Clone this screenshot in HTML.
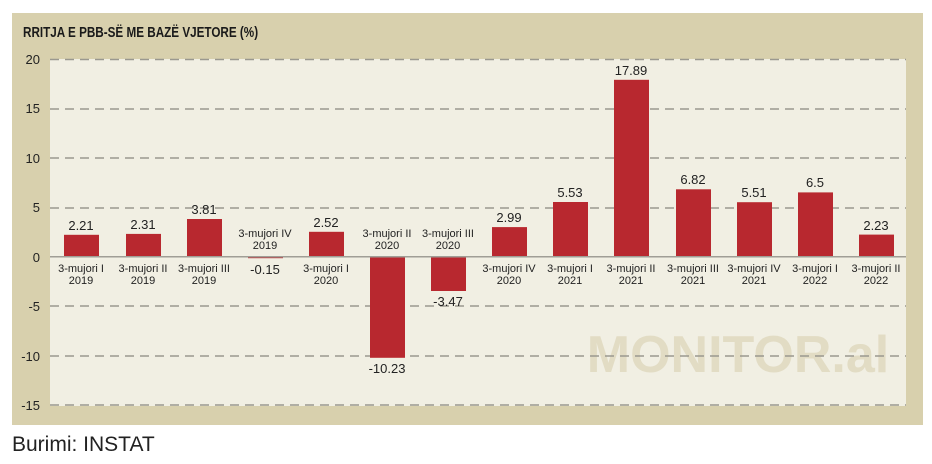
<!DOCTYPE html>
<html><head><style>
body{margin:0;background:#fff;width:932px;height:459px;overflow:hidden}
</style></head><body>
<svg width="932" height="459" xmlns="http://www.w3.org/2000/svg" font-family="Liberation Sans Narrow, Liberation Sans, sans-serif">
<rect x="12" y="13" width="911" height="412" fill="#d8d0ad"/>
<rect x="50" y="59" width="856" height="347" fill="#f1efe3"/>
<text x="23" y="37" font-size="15" font-weight="bold" fill="#1a1a1a" transform="translate(23 0) scale(0.78 1) translate(-23 0)">RRITJA E PBB-SË ME BAZË VJETORE (%)</text>
<text x="738" y="372" font-size="52" font-weight="bold" fill="#e2dcc4" text-anchor="middle" font-family="Liberation Sans, sans-serif">MONITOR.al</text>
<g stroke="#9a988f" stroke-width="1.5" stroke-dasharray="9,6">
<line x1="50" x2="906" y1="59.5" y2="59.5"/><line x1="50" x2="906" y1="109" y2="109"/>
<line x1="50" x2="906" y1="158" y2="158"/><line x1="50" x2="906" y1="208" y2="208"/>
<line x1="50" x2="906" y1="306" y2="306"/><line x1="50" x2="906" y1="356" y2="356"/>
<line x1="50" x2="906" y1="405" y2="405"/>
</g>
<g font-size="13" fill="#222" text-anchor="end">
<text x="40" y="64">20</text><text x="40" y="113">15</text><text x="40" y="163">10</text><text x="40" y="212">5</text><text x="40" y="262">0</text><text x="40" y="311">-5</text><text x="40" y="361">-10</text><text x="40" y="410">-15</text>
</g>
<g fill="#b8282f">
<rect x="64" y="234.8" width="35" height="21.9"/>
<rect x="126" y="233.9" width="35" height="22.8"/>
<rect x="187" y="219" width="35" height="37.7"/>
<rect x="248" y="256.7" width="35" height="1.5"/>
<rect x="309" y="231.8" width="35" height="24.9"/>
<rect x="370" y="256.7" width="35" height="101.1"/>
<rect x="431" y="256.7" width="35" height="34.3"/>
<rect x="492" y="227.1" width="35" height="29.6"/>
<rect x="553" y="202" width="35" height="54.7"/>
<rect x="614" y="79.8" width="35" height="176.9"/>
<rect x="676" y="189.3" width="35" height="67.4"/>
<rect x="737" y="202.2" width="35" height="54.5"/>
<rect x="798" y="192.4" width="35" height="64.3"/>
<rect x="859" y="234.6" width="35" height="22.1"/>
</g>
<line x1="50" x2="906" y1="256.7" y2="256.7" stroke="#a09e96" stroke-width="1.5"/>
<g font-size="13" fill="#222" text-anchor="middle">
<text x="81" y="230">2.21</text><text x="143" y="229">2.31</text><text x="204" y="214">3.81</text>
<text x="265" y="274">-0.15</text><text x="326" y="227">2.52</text><text x="387" y="373">-10.23</text>
<text x="448" y="306">-3.47</text><text x="509" y="222">2.99</text><text x="570" y="197">5.53</text>
<text x="631" y="75">17.89</text><text x="693" y="184">6.82</text><text x="754" y="197">5.51</text>
<text x="815" y="187">6.5</text><text x="876" y="230">2.23</text>
</g>
<g font-size="11" fill="#222" text-anchor="middle">
<text x="81" y="272">3-mujori I</text><text x="81" y="284">2019</text>
<text x="143" y="272">3-mujori II</text><text x="143" y="284">2019</text>
<text x="204" y="272">3-mujori III</text><text x="204" y="284">2019</text>
<text x="265" y="237">3-mujori IV</text><text x="265" y="249">2019</text>
<text x="326" y="272">3-mujori I</text><text x="326" y="284">2020</text>
<text x="387" y="237">3-mujori II</text><text x="387" y="249">2020</text>
<text x="448" y="237">3-mujori III</text><text x="448" y="249">2020</text>
<text x="509" y="272">3-mujori IV</text><text x="509" y="284">2020</text>
<text x="570" y="272">3-mujori I</text><text x="570" y="284">2021</text>
<text x="631" y="272">3-mujori II</text><text x="631" y="284">2021</text>
<text x="693" y="272">3-mujori III</text><text x="693" y="284">2021</text>
<text x="754" y="272">3-mujori IV</text><text x="754" y="284">2021</text>
<text x="815" y="272">3-mujori I</text><text x="815" y="284">2022</text>
<text x="876" y="272">3-mujori II</text><text x="876" y="284">2022</text>
</g>
<text x="12" y="451" font-size="21" fill="#222" font-family="Liberation Sans, sans-serif">Burimi: INSTAT</text>
</svg>
</body></html>
